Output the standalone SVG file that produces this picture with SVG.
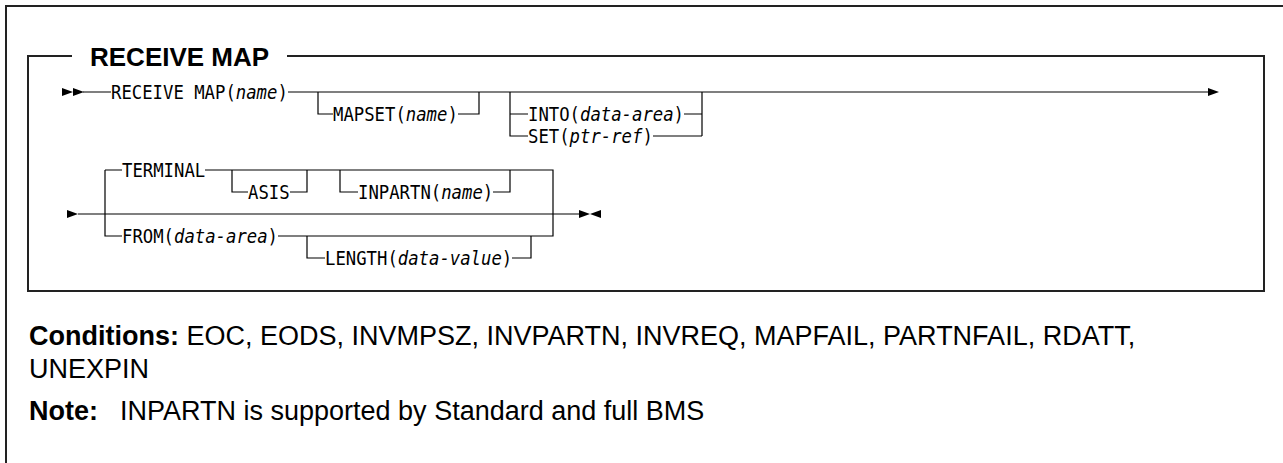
<svg xmlns="http://www.w3.org/2000/svg" width="1283" height="463" viewBox="0 0 1283 463">
<style>
.frame{fill:none;stroke:#222;stroke-width:2}
.ln{fill:none;stroke:#000;stroke-width:1.2}
.mono{font-family:"DejaVu Sans Mono",monospace;font-size:20px;fill:#000}
.it{font-style:italic}
.title{font-family:"Liberation Sans",Arial,sans-serif;font-size:26px;font-weight:bold;fill:#000}
.body{font-family:"Liberation Sans",Arial,sans-serif;font-size:27px;fill:#000}
.b{font-weight:bold}
.ah{fill:#000}
</style>
<rect width="1283" height="463" fill="#fff"/>
<g id="outer-frame">
<path class="frame" d="M6,463 V6 H1283"/>
</g>
<g id="syntax-box">
<path class="frame" d="M72,56 H28 V291 H1264 V56 H287"/>
<text class="title" x="90" y="66">RECEIVE MAP</text>
</g>
<g id="connectors">
<path class="ln" d="M83,92 H111 M288,92 H1210"/>
<path class="ln" d="M318,92 V114 H333 M458,114 H479 V92"/>
<path class="ln" d="M510,92 V136 H528 M510,114 H528 M684,114 H702 M653,136 H702 M702,92 V136"/>
<path class="ln" d="M78,214 H580"/>
<path class="ln" d="M105,170 V236 H122 M105,170 H122 M205,170 H553 V236 H278"/>
<path class="ln" d="M232,170 V192 H248 M290,192 H307 V170"/>
<path class="ln" d="M340,170 V192 H358 M493,192 H510 V170"/>
<path class="ln" d="M307,236 V258 H325 M512,258 H531 V236"/>
</g>
<g id="arrowheads">
<polygon class="ah" points="62,88 73,92 62,96"/>
<polygon class="ah" points="73,88 84,92 73,96"/>
<polygon class="ah" points="1208,88 1219,92 1208,96"/>
<polygon class="ah" points="67,210 78,214 67,218"/>
<polygon class="ah" points="579,210 590,214 579,218"/>
<polygon class="ah" points="601,210 590,214 601,218"/>
</g>
<g id="node-receive-map"><text class="mono" x="111" y="99" textLength="176.8" lengthAdjust="spacingAndGlyphs">RECEIVE MAP(<tspan class="it">name</tspan>)</text></g>
<g id="node-mapset"><text class="mono" x="333" y="121" textLength="124.8" lengthAdjust="spacingAndGlyphs">MAPSET(<tspan class="it">name</tspan>)</text></g>
<g id="node-into"><text class="mono" x="528" y="121" textLength="156" lengthAdjust="spacingAndGlyphs">INTO(<tspan class="it">data-area</tspan>)</text></g>
<g id="node-set"><text class="mono" x="528" y="143" textLength="124.8" lengthAdjust="spacingAndGlyphs">SET(<tspan class="it">ptr-ref</tspan>)</text></g>
<g id="node-terminal"><text class="mono" x="122" y="177" textLength="83.2" lengthAdjust="spacingAndGlyphs">TERMINAL</text></g>
<g id="node-asis"><text class="mono" x="248" y="199" textLength="41.6" lengthAdjust="spacingAndGlyphs">ASIS</text></g>
<g id="node-inpartn"><text class="mono" x="358" y="199" textLength="135.2" lengthAdjust="spacingAndGlyphs">INPARTN(<tspan class="it">name</tspan>)</text></g>
<g id="node-from"><text class="mono" x="122" y="243" textLength="156" lengthAdjust="spacingAndGlyphs">FROM(<tspan class="it">data-area</tspan>)</text></g>
<g id="node-length"><text class="mono" x="325" y="265" textLength="187.2" lengthAdjust="spacingAndGlyphs">LENGTH(<tspan class="it">data-value</tspan>)</text></g>
<g id="notes">
<text class="body" x="29" y="345"><tspan class="b">Conditions:</tspan> EOC, EODS, INVMPSZ, INVPARTN, INVREQ, MAPFAIL, PARTNFAIL, RDATT,</text>
<text class="body" x="29" y="378">UNEXPIN</text>
<text class="body" x="29" y="420"><tspan class="b">Note:</tspan><tspan x="120">INPARTN is supported by Standard and full BMS</tspan></text>
</g>
</svg>
